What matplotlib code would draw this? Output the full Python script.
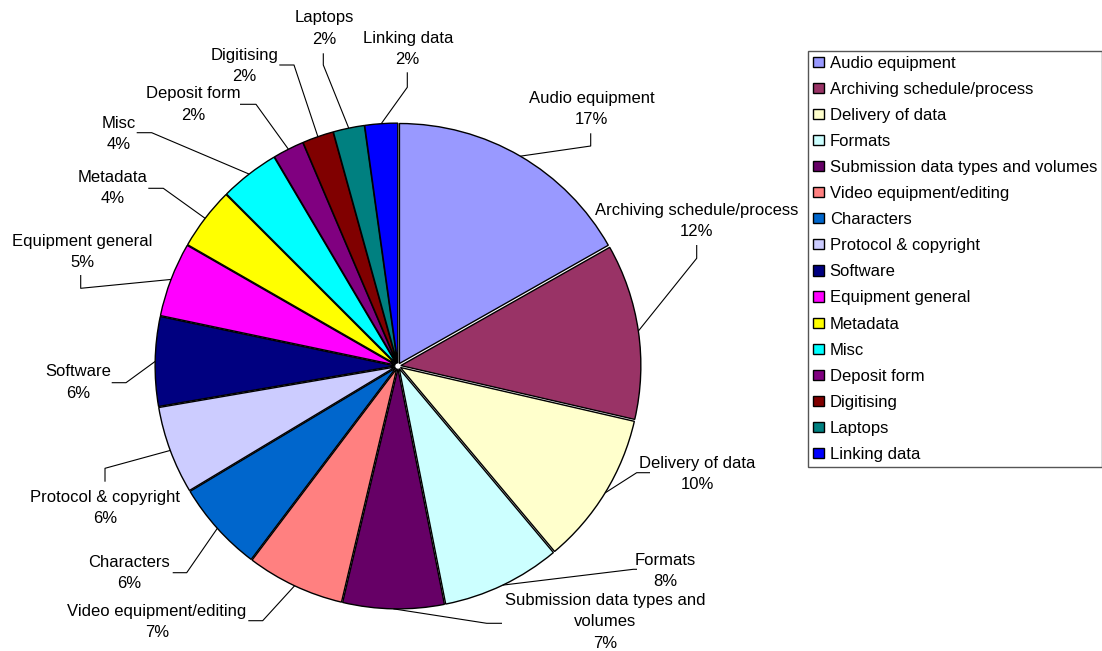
import matplotlib
matplotlib.use('Agg')
import matplotlib.pyplot as plt
import numpy as np

# ---------------- data ----------------
categories = ["Audio equipment", "Archiving schedule/process", "Delivery of data", "Formats",
              "Submission data types and volumes", "Video equipment/editing", "Characters",
              "Protocol & copyright", "Software", "Equipment general", "Metadata", "Misc",
              "Deposit form", "Digitising", "Laptops", "Linking data"]
values = [16.8, 11.8, 10.3, 8.0, 6.8, 6.6, 6.1, 5.9, 6.0, 5.0, 4.2, 4.0, 2.1, 2.1, 2.1, 2.2]
label_names = ["Audio equipment", "Archiving schedule/process", "Delivery of data", "Formats",
               "Submission data types and\nvolumes", "Video equipment/editing", "Characters",
               "Protocol & copyright", "Software", "Equipment general", "Metadata", "Misc",
               "Deposit form", "Digitising", "Laptops", "Linking data"]

# ---------------- styles ----------------
colors = ["#9999FF", "#993366", "#FFFFCC", "#CCFFFF", "#660066", "#FF8080", "#0066CC",
          "#CCCCFF", "#000080", "#FF00FF", "#FFFF00", "#00FFFF", "#800080", "#800000",
          "#008080", "#0000FF"]

# ---------------- layout (pixels, from top-left) ----------------
label_pos = [(591.7, 109), (696.7, 221), (697, 474), (665, 571), (605, 622),
             (157, 622), (129, 573), (105, 508), (78, 382.5), (82, 252),
             (113, 188), (119, 134), (193, 104.5), (244.5, 66), (324.5, 28.5), (407.7, 49)]
leader_mid = [(590.7, 146), (696.7, 258.3), (636.7, 472.7), (633.3, 569.3), (486.7, 623.3),
              (262.7, 620.7), (186.7, 572.7), (105, 468.3), (126, 382.7), (80.7, 288.3),
              (163.3, 188.3), (151.7, 132.7), (256, 104.3), (294, 65), (323.3, 65), (407.3, 87.3)]
leader_end = [(590.7, 133.3), (696.7, 245), (650, 472.7), (637, 569.3), (502, 623.3),
              (248.3, 620.7), (172.7, 572.7), (105, 481.7), (111.7, 382.7), (80.7, 275),
              (148.3, 188.3), (136.7, 132.7), (240, 104.3), (279.3, 65), (323.3, 53.3), (407.3, 72.3)]

plt.rcParams['font.family'] = ['Liberation Sans', 'DejaVu Sans']
W, H = 1102, 651
fig = plt.figure(figsize=(W / 100, H / 100), dpi=100)
fig.patch.set_facecolor('white')
cx, cy, R = 398, 366, 240

ax = fig.add_axes([0, 0, 1, 1])
wedges, _ = ax.pie(values, colors=colors, startangle=90, counterclock=False,
                   explode=[0.012] * len(values),
                   wedgeprops=dict(edgecolor='black', linewidth=1))
ax.set_xlim(-cx / R, (W - cx) / R)
ax.set_ylim((cy - H) / R, cy / R)
ax.set_aspect('auto')
ax.axis('off')


def px(x, y):
    return ((x - cx) / R, (cy - y) / R)


total = sum(values)
for w, name, v, lp, mid, end in zip(wedges, label_names, values, label_pos, leader_mid, leader_end):
    ang = np.deg2rad((w.theta1 + w.theta2) / 2)
    c = w.center
    sx, sy = c[0] + w.r * np.cos(ang), c[1] + w.r * np.sin(ang)
    mx, my = px(*mid)
    ex, ey = px(*end)
    ax.plot([sx, mx, ex], [sy, my, ey], color='black', lw=0.8, solid_capstyle='butt')
    pct = int(round(v / total * 100))
    tx, ty = px(*lp)
    ax.text(tx, ty, f"{name}\n{pct}%", ha='center', va='center', fontsize=12,
            linespacing=1.55, color='black')

leg = ax.legend(wedges, categories, loc='upper left',
                bbox_to_anchor=(808 / W, 1 - 50.7 / H), bbox_transform=fig.transFigure,
                borderaxespad=0, fontsize=12, frameon=True, fancybox=False, shadow=False,
                borderpad=0.3, labelspacing=0.665, handlelength=0.64, handleheight=0.56,
                handletextpad=0.36)
frame = leg.get_frame()
frame.set_edgecolor('#555555')
frame.set_linewidth(1)
frame.set_facecolor('white')
frame.set_alpha(1)

fig.savefig('out.png', dpi=100, facecolor='white')
